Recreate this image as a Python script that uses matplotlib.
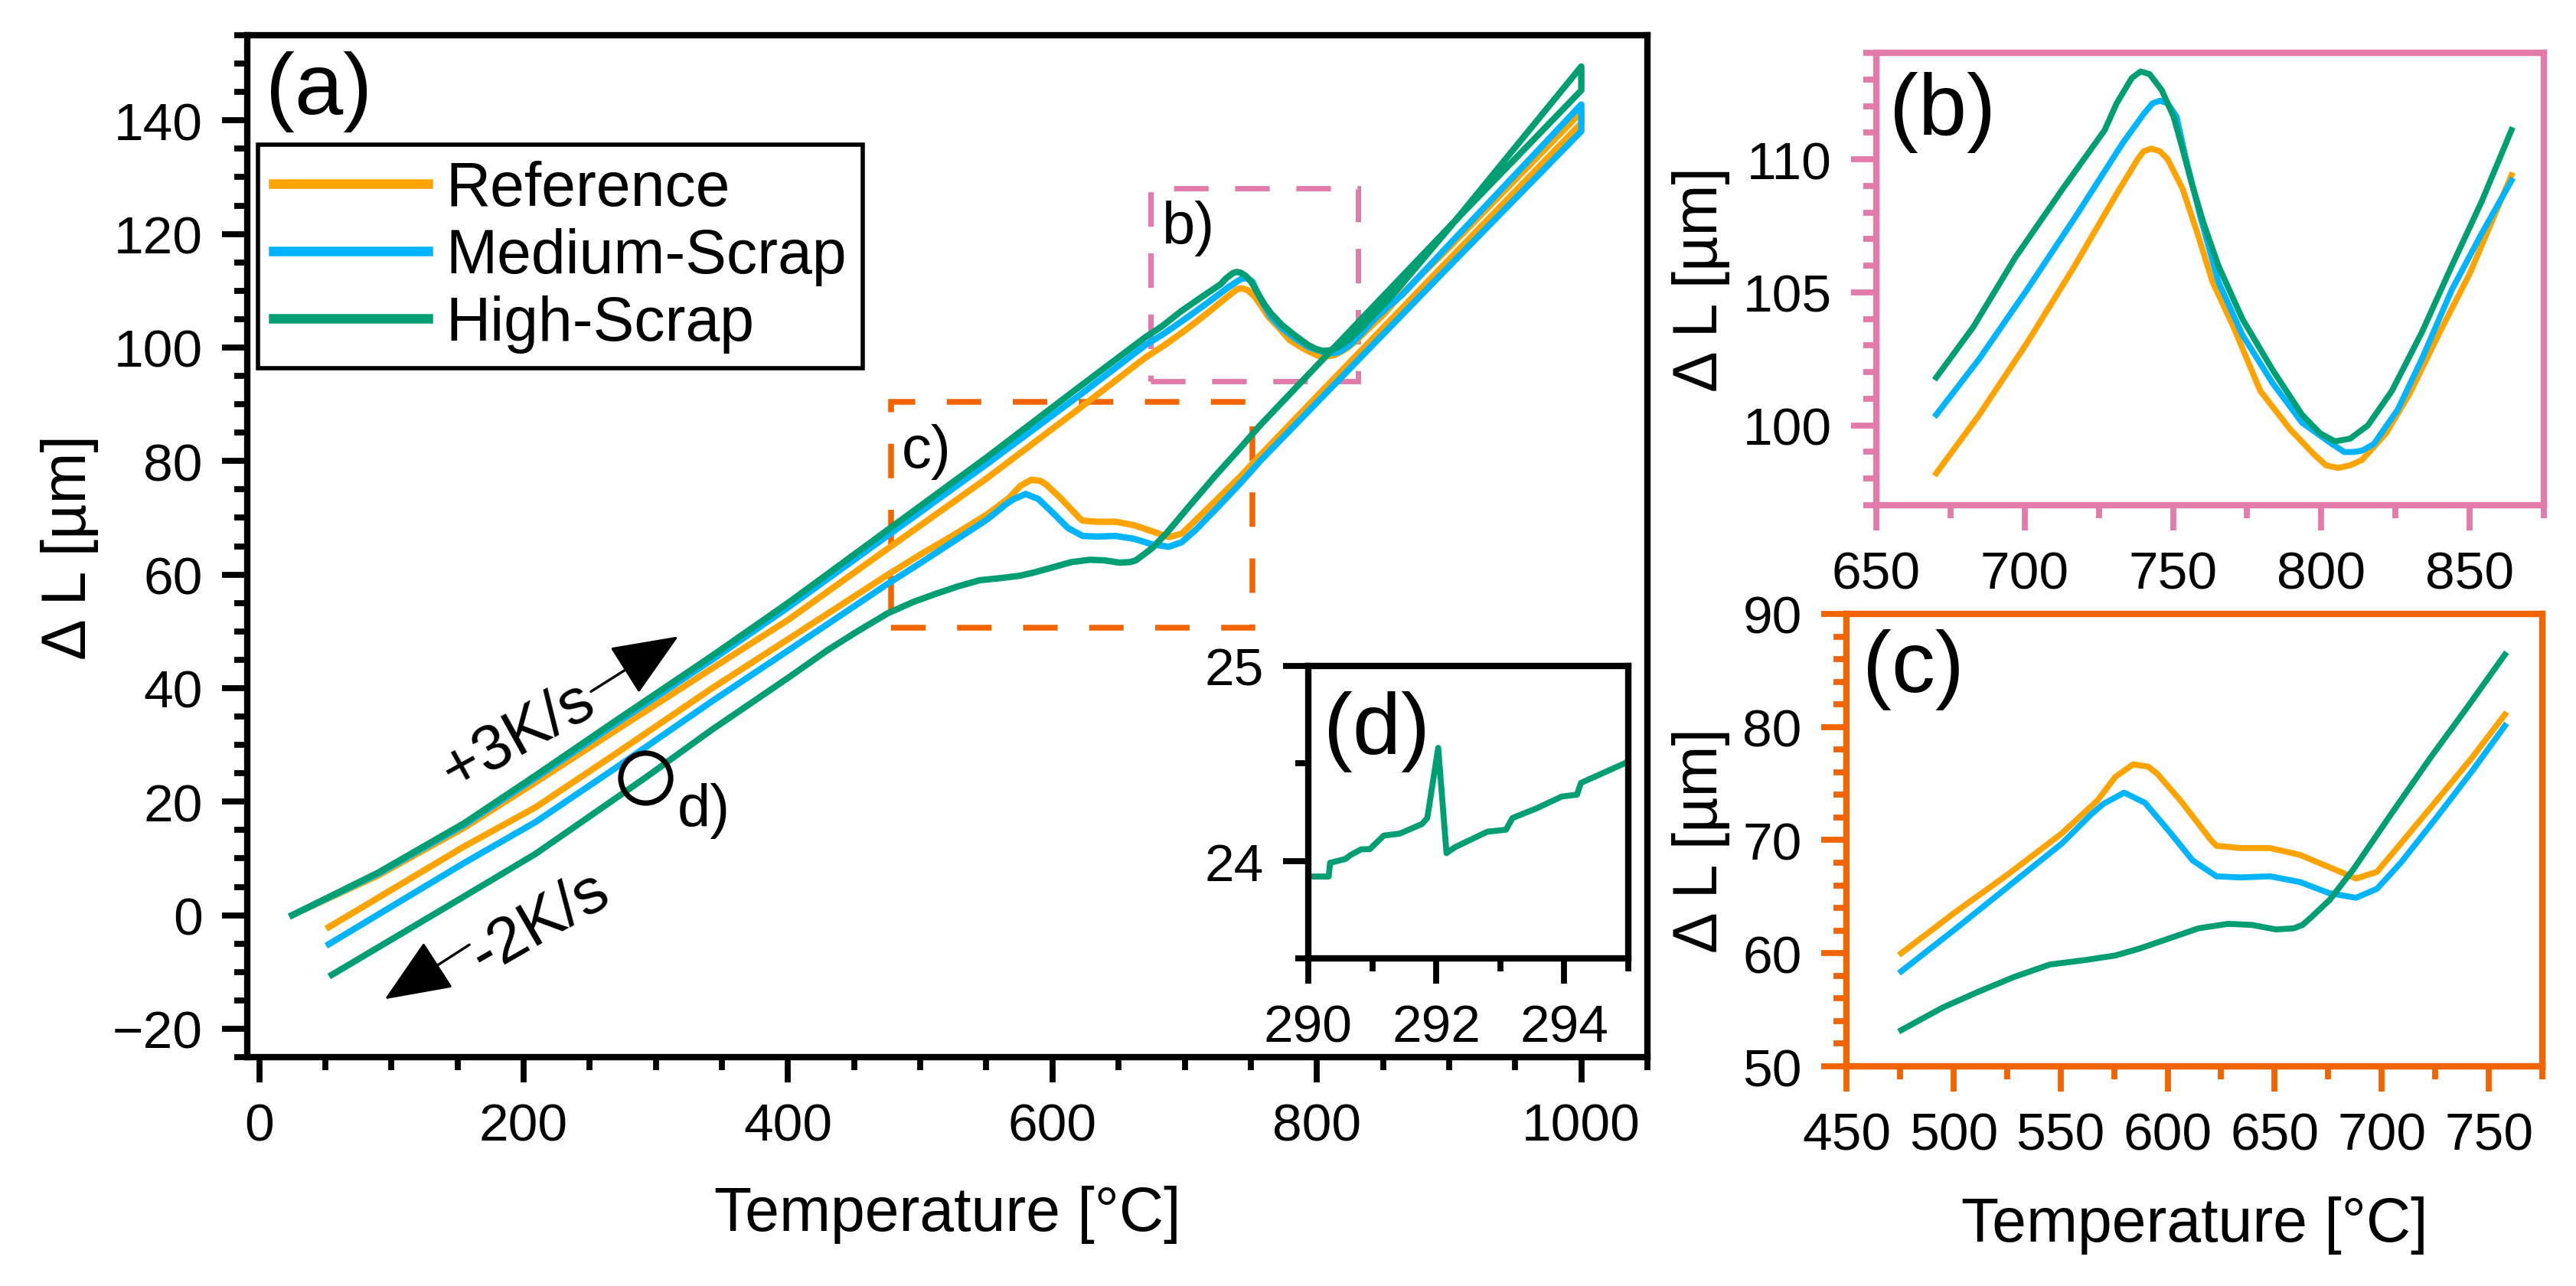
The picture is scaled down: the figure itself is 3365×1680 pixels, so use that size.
import numpy as np
import matplotlib.pyplot as plt
from matplotlib.patches import Rectangle
from matplotlib.ticker import MultipleLocator

plt.rcParams['font.family'] = ['Liberation Sans', 'DejaVu Sans']

c_ref = '#FFA300'
c_med = '#00B4FF'
c_high = '#009E73'
c_pink = '#E27BAA'
c_orange = '#F26400'

# heating branch (+3 K/s): temperature [°C], dL [µm]
ref_heat_T = [25, 90, 155, 209, 270, 342, 400, 475, 550, 620,
              670.2, 684.7, 700.8, 716.9, 731, 738.1, 740.1, 742.7, 745.6, 748.2, 753.2,
              758.3, 763.3, 770.4, 779.4, 789.5, 797.6, 801.6, 805.6, 809.7, 813.7, 821.8,
              829.8, 839.9, 850, 864.1, 900, 1000]
ref_heat = [0, 7.0, 15.4, 23.4, 32.6, 43.4, 52.0, 64.5, 76.9, 89.2,
            98.2, 100.4, 103.1, 106.0, 108.7, 110.0, 110.3, 110.4, 110.3, 110.0, 108.9,
            107.2, 105.4, 103.7, 101.3, 99.85, 98.9, 98.5, 98.4, 98.5, 98.7, 99.7,
            101.2, 103.5, 105.7, 109.4, 117.6, 141.5]

med_heat_T = [25, 90, 155, 209, 270, 342, 400, 475, 550, 620,
              670.2, 684.7, 700.8, 716.9, 733, 740.1, 743.1, 745.6, 748.2, 751.2, 754.2,
              759.3, 765.3, 773.4, 783.5, 793.5, 803.6, 807.7, 810.7, 813.7, 817.7, 825.8,
              833.9, 844, 854, 864.1, 900, 1000]
med_heat = [0, 7.3, 15.9, 24.2, 33.8, 44.9, 54.2, 66.8, 79.4, 91.5,
            100.4, 102.5, 105.1, 107.8, 110.6, 111.7, 112.1, 112.2, 112.1, 111.6, 110.1,
            107.8, 105.4, 103.4, 101.6, 100.1, 99.3, 99.0, 99.0, 99.05, 99.3, 100.6,
            102.5, 105.1, 107.2, 109.2, 118.1, 142.8]

high_heat_T = [25, 90, 155, 209, 270, 342, 400, 475, 550, 620,
               670.2, 682.7, 696.8, 712.9, 727, 731, 736.1, 739.1, 742.1, 746.2, 750.2,
               753.2, 756.3, 760.3, 765.3, 773.4, 783.5, 793.5, 799.6, 804.6, 809.7, 815.7,
               823.8, 833.9, 844, 854, 864.1, 900, 1000]
high_heat = [0, 7.5, 16.2, 24.6, 34.3, 45.6, 55.0, 67.8, 80.6, 93.0,
             101.8, 103.7, 106.3, 108.9, 111.1, 112.1, 113.05, 113.3, 113.2, 112.6, 111.6,
             110.4, 109.1, 107.6, 106.0, 104.0, 102.1, 100.4, 99.7, 99.4, 99.5, 100.0,
             101.3, 103.5, 106.0, 108.4, 111.1, 121.0, 149.5]

# cooling branch (-2 K/s)
ref_cool_T = [1000, 900, 800,
              757.5, 742.2, 725.6, 708.9, 697.8, 688, 675.6, 661.7, 647.8, 633.9, 622.8,
              620, 617, 606, 595, 590.8, 583.9, 575.6, 567.2, 550.6, 525.6, 500.6, 475.6,
              400, 342, 270, 209, 155, 52.7]
ref_cool = [139.5, 115.5, 91.4,
            81.1, 77.3, 73.5, 69.7, 67.2, 66.6, 67.6, 68.7, 69.3, 69.3, 69.5,
            70.05, 70.8, 73.5, 75.9, 76.5, 76.7, 75.6, 73.5, 70.6, 67.0, 63.6, 60.0,
            48.6, 39.9, 28.5, 19.0, 12.1, -2.1]

med_cool_T = [1000, 900, 800,
              757.5, 742.2, 725.6, 708.9, 697.8, 688, 675.6, 661.7, 647.8, 633.9, 622.8,
              611.7, 600.6, 589.4, 579.7, 570, 564.4, 550.6, 525.6, 500.6, 475.6,
              400, 342, 270, 209, 155, 52.7]
med_cool = [138.1, 114.3, 90.3,
            80.1, 76.1, 72.0, 68.0, 65.7, 64.9, 65.3, 66.3, 66.8, 66.7, 66.8,
            68.2, 70.8, 73.3, 74.2, 73.2, 72.3, 69.7, 65.9, 62.1, 58.4,
            46.6, 37.6, 26.0, 16.4, 9.2, -5.1]

high_cool_T = [1000, 900, 800,
               757.5, 739.4, 722.8, 703.3, 686.7, 675.6, 667.2, 663, 658.9, 650.6, 639.4,
               628.3, 614.4, 600.6, 586.7, 575.6, 561.7, 545, 528.3, 511.7, 495, 475.6,
               452.5, 430, 400, 342, 292, 209, 155, 55]
high_cool = [145.3, 121.2, 96.8,
             86.4, 81.6, 77.3, 72.0, 67.4, 64.7, 63.2, 62.5, 62.2, 62.1, 62.5,
             62.6, 62.2, 61.3, 60.4, 59.8, 59.4, 59.0, 57.9, 56.6, 55.2, 53.2,
             50.0, 46.7, 41.8, 32.6, 24.2, 10.8, 3.3, -10.5]

# (d) zoom on High-Scrap cooling curve
d_T = [290.0, 290.32, 290.34, 290.58, 290.66, 290.83, 290.96, 291.18, 291.43, 291.78,
       291.86, 292.03, 292.16, 292.29, 292.80, 293.09, 293.19, 293.57, 293.96, 294.20,
       294.26, 294.94, 295.0]
d_dL = [23.92, 23.92, 23.99, 24.01, 24.03, 24.06, 24.06, 24.13, 24.14, 24.19,
        24.22, 24.58, 24.04, 24.07, 24.15, 24.16, 24.22, 24.27, 24.33, 24.34,
        24.40, 24.50, 24.51]

series = [
    ('Reference', c_ref, ref_heat_T, ref_heat, ref_cool_T, ref_cool),
    ('Medium-Scrap', c_med, med_heat_T, med_heat, med_cool_T, med_cool),
    ('High-Scrap', c_high, high_heat_T, high_heat, high_cool_T, high_cool),
]

box_b = (674, 94, 831, 128)
box_c = (478, 50.7, 751.5, 90.4)
circle_d = (292, 24.2)


def style_axes(ax, col, tsize=25):
    for s in ax.spines.values():
        s.set_color(col)
        s.set_linewidth(3)
    ax.tick_params(which='both', direction='out', color=col, width=2.8,
                   labelsize=tsize, pad=9, top=False, right=False)
    ax.tick_params(which='major', length=12)
    ax.tick_params(which='minor', length=6)


fig = plt.figure(figsize=(16.83, 8.405), dpi=200)

# ---- (a) main panel
ax = fig.add_axes([0.09596, 0.17787, 0.54337, 0.79417])
for label, col, hT, h, cT, c in series:
    ax.plot(hT + cT, h + c, color=col, lw=3.0, label=label, solid_joinstyle='round')
ax.set_xlim(-9, 1050)
ax.set_ylim(-25, 155)
ax.xaxis.set_major_locator(MultipleLocator(200))
ax.xaxis.set_minor_locator(MultipleLocator(50))
ax.yaxis.set_major_locator(MultipleLocator(20))
ax.yaxis.set_minor_locator(MultipleLocator(5))
style_axes(ax, 'k')
ax.set_xlabel('Temperature [°C]', fontsize=29)
ax.set_ylabel('Δ L [µm]', fontsize=29)
ax.xaxis.set_label_coords(0.5, -0.125)
ax.yaxis.set_label_coords(-0.106, 0.5)

leg = ax.legend(loc='upper left', bbox_to_anchor=(0.0077, 0.893), borderaxespad=0,
                fontsize=29, fancybox=False, edgecolor='k', framealpha=1,
                handlelength=2.5, handletextpad=0.3, borderpad=0.25, labelspacing=0.15)
leg.get_frame().set_linewidth(2)
for ln in leg.get_lines():
    ln.set_linewidth(4.5)

ax.text(0.013, 0.985, '(a)', transform=ax.transAxes, fontsize=41, va='top', ha='left')

x0, y0, x1, y1 = box_b
ax.add_patch(Rectangle((x0, y0), x1 - x0, y1 - y0, fill=False, ec=c_pink, lw=2.5,
                       ls=(0, (6.5, 5))))
ax.text(x0 + 9, y1 - 2, 'b)', fontsize=28, va='top', ha='left')
x0, y0, x1, y1 = box_c
ax.add_patch(Rectangle((x0, y0), x1 - x0, y1 - y0, fill=False, ec=c_orange, lw=2.7,
                       ls=(0, (6, 5.5))))
ax.text(x0 + 8, y1 - 3.8, 'c)', fontsize=28, va='top', ha='left')

arrow = dict(arrowstyle='-|>,head_length=1.15,head_width=0.48', mutation_scale=24,
             lw=1.2, color='k', shrinkA=0, shrinkB=0)
ax.annotate('', xy=(317, 49.1), xytext=(251, 39.4), arrowprops=arrow)
ax.annotate('', xy=(95, -14.8), xytext=(159, -5.2), arrowprops=arrow)
ax.text(196, 31.7, '+3K/s', rotation=29, rotation_mode='anchor', ha='center',
        va='center', fontsize=30)
ax.text(212, -1.3, '-2K/s', rotation=30, rotation_mode='anchor', ha='center',
        va='center', fontsize=30)

ax.plot(*circle_d, 'o', ms=23.5, mfc='none', mec='k', mew=2.5)
ax.text(316, 23.4, 'd)', fontsize=28, va='top', ha='left')

# ---- (d) inset
axd = fig.add_axes([0.50772, 0.25461, 0.12418, 0.22725])
axd.plot(d_T, d_dL, color=c_high, lw=2.8)
axd.set_xlim(290, 295)
axd.set_ylim(23.5, 25)
axd.xaxis.set_major_locator(MultipleLocator(2))
axd.xaxis.set_minor_locator(MultipleLocator(1))
axd.yaxis.set_major_locator(MultipleLocator(1))
axd.yaxis.set_minor_locator(MultipleLocator(0.5))
style_axes(axd, 'k')
axd.text(0.047, 0.915, '(d)', transform=axd.transAxes, fontsize=41, va='top', ha='left')

# ---- (b) heating peak
axb = fig.add_axes([0.72816, 0.60678, 0.25906, 0.35158])
for label, col, hT, h, cT, c in series:
    T = np.array(hT)
    v = np.array(h)
    m = (T >= 669) & (T <= 866)
    axb.plot(T[m], v[m], color=col, lw=2.8, solid_joinstyle='round')
axb.set_xlim(650, 875)
axb.set_ylim(97, 114)
axb.xaxis.set_major_locator(MultipleLocator(50))
axb.xaxis.set_minor_locator(MultipleLocator(25))
axb.yaxis.set_major_locator(MultipleLocator(5))
axb.yaxis.set_minor_locator(MultipleLocator(1))
style_axes(axb, c_pink)
axb.set_ylabel('Δ L [µm]', fontsize=29)
axb.yaxis.set_label_coords(-0.219, 0.5)
axb.text(0.0195, 0.959, '(b)', transform=axb.transAxes, fontsize=41, va='top', ha='left')

# ---- (c) cooling transformation
axc = fig.add_axes([0.71658, 0.17073, 0.27005, 0.35158])
for label, col, hT, h, cT, c in series:
    T = np.array(cT)
    v = np.array(c)
    m = (T >= 475) & (T <= 758)
    axc.plot(T[m], v[m], color=col, lw=2.8, solid_joinstyle='round')
axc.set_xlim(450, 775)
axc.set_ylim(50, 90)
axc.xaxis.set_major_locator(MultipleLocator(50))
axc.xaxis.set_minor_locator(MultipleLocator(25))
axc.yaxis.set_major_locator(MultipleLocator(10))
axc.yaxis.set_minor_locator(MultipleLocator(2))
style_axes(axc, c_orange)
axc.set_xlabel('Temperature [°C]', fontsize=29)
axc.set_ylabel('Δ L [µm]', fontsize=29)
axc.xaxis.set_label_coords(0.5, -0.286)
axc.yaxis.set_label_coords(-0.167, 0.5)
axc.text(0.023, 0.968, '(c)', transform=axc.transAxes, fontsize=41, va='top', ha='left')

fig.savefig('out.png', dpi=200)
